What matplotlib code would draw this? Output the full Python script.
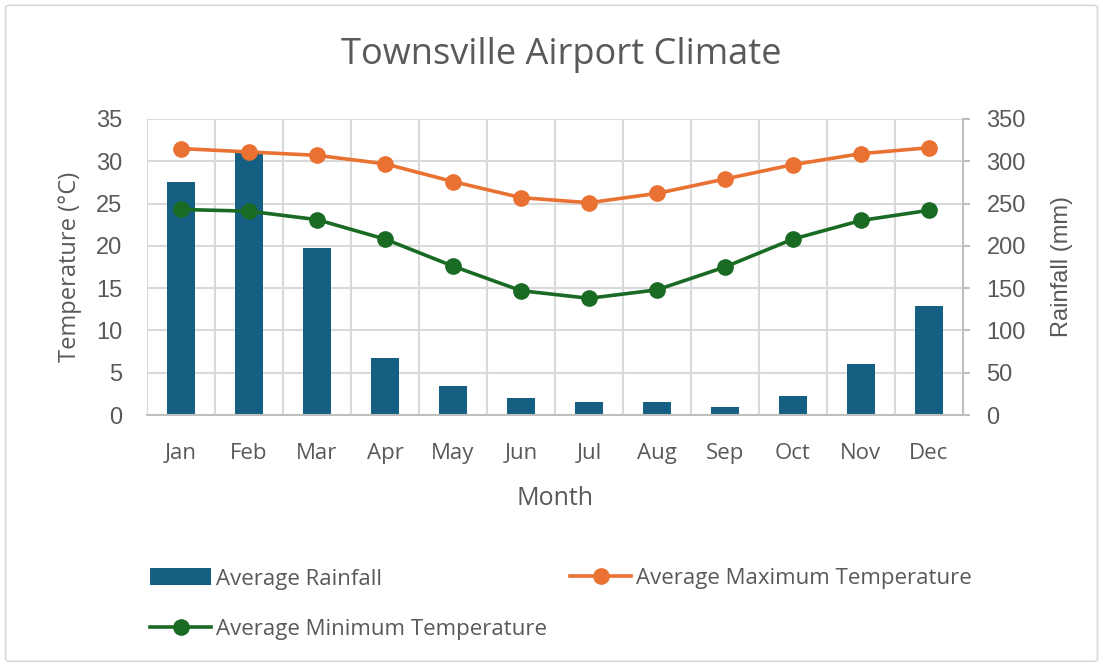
import matplotlib
matplotlib.use("Agg")
import matplotlib.pyplot as plt
from matplotlib.patches import FancyBboxPatch
import numpy as np

months = ["Jan", "Feb", "Mar", "Apr", "May", "Jun",
          "Jul", "Aug", "Sep", "Oct", "Nov", "Dec"]
rainfall = [275, 311, 198, 67, 34, 20, 15, 15, 9, 23, 60, 129]
max_temp = [31.5, 31.1, 30.7, 29.7, 27.6, 25.7, 25.1, 26.2, 27.9, 29.6, 30.9, 31.6]
min_temp = [24.3, 24.1, 23.1, 20.8, 17.6, 14.7, 13.8, 14.8, 17.5, 20.8, 23.0, 24.2]

text_c = "#595959"
grid_c = "#D9D9D9"
bar_c = "#156082"
orange = "#E97132"
green = "#196B24"

plt.rcParams['font.family'] = ['Open Sans', 'DejaVu Sans']
num_font = ['Liberation Sans', 'DejaVu Sans']

fig = plt.figure(figsize=(11.03, 6.68), dpi=100)
fig.patches.append(FancyBboxPatch((0.005, 0.01), 0.99, 0.982, boxstyle="round,pad=0,rounding_size=0.004",
                                  transform=fig.transFigure, fill=False, edgecolor="#D9D9D9", lw=1.2))

ax = fig.add_axes([0.1333, 0.3787, 0.7397, 0.4432])
ax2 = ax.twinx()
x = np.arange(len(months))

# rainfall bars on the right axis, drawn underneath the lines
ax2.set_ylim(0, 350)
ax2.set_yticks(np.arange(0, 351, 50))
ax2.grid(True, axis="y", color=grid_c, lw=1.5, zorder=0)
ax2.set_axisbelow(True)
for b in np.arange(-0.5, 12, 1):
    ax2.axvline(b, color=grid_c, lw=1.5, zorder=0.5)
ax2.bar(x, rainfall, width=0.41, color=bar_c, zorder=2, label="Average Rainfall")

ax.set_zorder(ax2.get_zorder() + 1)
ax.patch.set_visible(False)
ax.plot(x, max_temp, color=orange, lw=2.6, marker="o", ms=11, label="Average Maximum Temperature", zorder=3)
ax.plot(x, min_temp, color=green, lw=2.6, marker="o", ms=11, label="Average Minimum Temperature", zorder=3)
ax.set_ylim(0, 35)
ax.set_yticks(np.arange(0, 36, 5))
ax.set_xlim(-0.5, 11.5)
ax.set_xticks(x)
ax.set_xticklabels(months)

for a in (ax, ax2):
    for s in a.spines.values():
        s.set_visible(False)
    a.tick_params(colors=text_c, length=0)
ax2.spines["bottom"].set_visible(True)
ax2.spines["bottom"].set_color("#BFBFBF")
ax2.spines["bottom"].set_linewidth(1.5)
ax2.spines["right"].set_visible(True)
ax2.spines["right"].set_color("#BFBFBF")
ax2.spines["right"].set_linewidth(1.5)
ax2.tick_params(axis="y", length=5, color="#BFBFBF", width=1.5, pad=12)
ax.tick_params(axis="x", pad=20, labelsize=16)
ax.tick_params(axis="y", pad=18)
for lab in ax.get_yticklabels() + ax2.get_yticklabels():
    lab.set_family(num_font)
    lab.set_fontsize(17)

ax.set_xlabel("Month", fontsize=18, color=text_c, labelpad=16)
ax.set_ylabel("Temperature (°C)", fontsize=17, color=text_c, labelpad=10)
ax2.set_ylabel("Rainfall (mm)", fontsize=17, color=text_c, labelpad=18, family=num_font)

fig.text(0.509, 0.918, "Townsville Airport Climate", ha="center", va="center",
         fontsize=26, color=text_c)

h1, l1 = ax2.get_legend_handles_labels()
h2, l2 = ax.get_legend_handles_labels()
leg_kw = dict(frameon=False, handlelength=2.75, handleheight=0.8, handletextpad=0.2,
              labelspacing=1.3, borderpad=0, borderaxespad=0, fontsize=16, labelcolor=text_c)
fig.legend([h1[0], h2[1]], [l1[0], l2[1]], loc="center left",
           bbox_to_anchor=(0.136, 0.0958), **leg_kw)
fig.legend([h2[0]], [l2[0]], loc="center left",
           bbox_to_anchor=(0.5168, 0.1347), **leg_kw)

fig.savefig("out.png", dpi=100)
